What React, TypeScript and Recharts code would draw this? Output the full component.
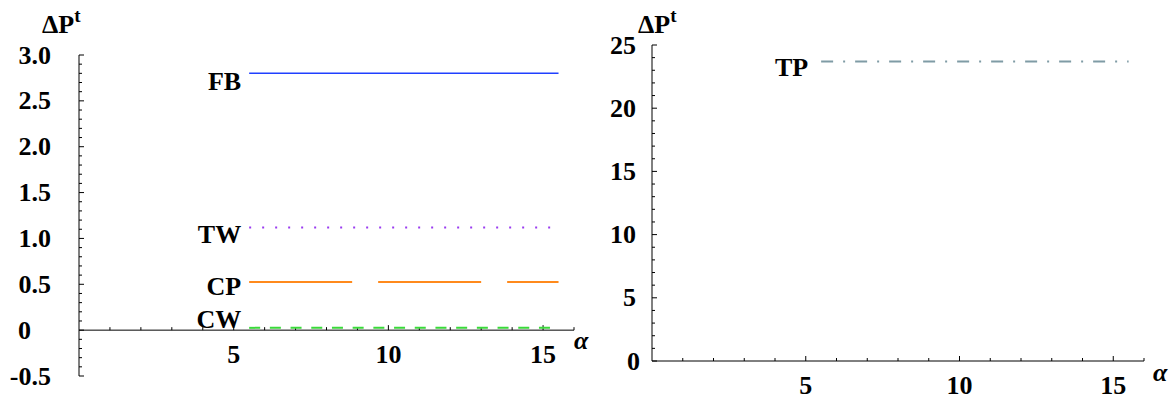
import React from 'react';
import { LineChart, Line, XAxis, YAxis, ReferenceLine } from 'recharts';

const FONT = '"Liberation Serif", "Times New Roman", Times, serif';
const FS = 26;

// ---- data ----
const alphaRange = [5.5, 15.5];
const fbValues = [2.8, 2.8];
const twValues = [1.12, 1.12];
const cpValues = [0.525, 0.525];
const cwValues = [0.025, 0.025];
const tpValues = [23.7, 23.7];

// ---- ticks ----
const xTicks = [1, 2, 3, 4, 5, 6, 7, 8, 9, 10, 11, 12, 13, 14, 15, 16];
const xLabelValues = [5, 10, 15];
const xLabelTexts = ['5', '10', '15'];

const leftYTicks = [
  -0.5, -0.4, -0.3, -0.2, -0.1, 0, 0.1, 0.2, 0.3, 0.4, 0.5, 0.6, 0.7, 0.8, 0.9, 1.0,
  1.1, 1.2, 1.3, 1.4, 1.5, 1.6, 1.7, 1.8, 1.9, 2.0, 2.1, 2.2, 2.3, 2.4, 2.5, 2.6,
  2.7, 2.8, 2.9, 3.0,
];
const leftYLabelValues = [-0.5, 0, 0.5, 1.0, 1.5, 2.0, 2.5, 3.0];
const leftYLabelTexts = ['-0.5', '0', '0.5', '1.0', '1.5', '2.0', '2.5', '3.0'];

const rightYTicks = [
  0, 1, 2, 3, 4, 5, 6, 7, 8, 9, 10, 11, 12, 13, 14, 15, 16, 17, 18, 19, 20, 21, 22, 23, 24, 25,
];
const rightYLabelValues = [0, 5, 10, 15, 20, 25];
const rightYLabelTexts = ['0', '5', '10', '15', '20', '25'];

const leftData = alphaRange.map((a, i) => ({
  alpha: a,
  FB: fbValues[i],
  TW: twValues[i],
  CP: cpValues[i],
  CW: cwValues[i],
}));
const rightData = alphaRange.map((a, i) => ({ alpha: a, TP: tpValues[i] }));

const textStyle = { fontFamily: FONT, fontSize: FS, fill: '#000', fontWeight: 700 as const };

const makeYTick = (vals: number[], texts: string[], gap: number, zeroGap: number) => (props: any) => {
  const { x, y, payload } = props;
  const v = payload.value;
  const idx = vals.findIndex((l) => Math.abs(l - v) < 1e-6);
  const major = idx >= 0;
  const g = texts[idx] === '0' ? zeroGap : gap;
  return (
    <g>
      <line x1={x} x2={x + (major ? 5 : 3)} y1={y} y2={y} stroke="#000" strokeWidth={1} />
      {major && (
        <text x={x - g} y={y} textAnchor="end" dominantBaseline="central" {...textStyle}>
          {texts[idx]}
        </text>
      )}
    </g>
  );
};

const makeXTickShape = (value: number) => (props: any) => {
  const { x1, y1 } = props;
  const idx = xLabelValues.indexOf(value);
  const major = idx >= 0;
  return (
    <g>
      <line x1={x1} x2={x1} y1={y1} y2={y1 - (major ? 5 : 3)} stroke="#000" strokeWidth={1} />
      {major && (
        <text x={x1} y={y1 + 24} textAnchor="middle" dominantBaseline="central" {...textStyle}>
          {xLabelTexts[idx]}
        </text>
      )}
    </g>
  );
};

const alphaShape = (dx: number, dy: number) => (props: any) => {
  const { x1, y1 } = props;
  return (
    <text x={x1 + dx} y={y1 + dy} textAnchor="start" dominantBaseline="central" {...textStyle} fontStyle="italic">
      α
    </text>
  );
};

const deltaShape = (dx: number, dy: number) => (props: any) => {
  const { x1, y1 } = props;
  return (
    <text x={x1 + dx} y={y1 + dy} textAnchor="start" {...textStyle}>
      ΔP
      <tspan fontSize={19} dy={-11}>t</tspan>
    </text>
  );
};

const seriesLabel = (name: string, dy: number, gap: number) => (props: any) => {
  const { x, y, index } = props;
  if (index !== 0) return null;
  return (
    <text x={x - gap} y={y + dy} textAnchor="end" dominantBaseline="central" {...textStyle}>
      {name}
    </text>
  );
};

const xAxisTicks = (yLevel: number) =>
  xTicks.map((t) => (
    <ReferenceLine
      key={'xt' + t}
      segment={[{ x: t, y: yLevel }, { x: t, y: yLevel }]}
      stroke="#000"
      shape={makeXTickShape(t)}
      ifOverflow="visible"
    />
  ));

export default function App() {
  return (
    <div style={{ position: 'absolute', left: 0, top: 0, width: 1175, height: 402, background: '#fff' }}>
      <div style={{ position: 'absolute', left: 0, top: 0 }}>
        <LineChart width={600} height={402} data={leftData} margin={{ top: 55, right: 26, bottom: 26, left: 19 }}>
          <XAxis dataKey="alpha" type="number" domain={[0, 16]} hide />
          <YAxis
            type="number"
            domain={[-0.5, 3]}
            ticks={leftYTicks}
            interval={0}
            width={60}
            tickSize={0}
            tickMargin={0}
            tickLine={false}
            axisLine={{ stroke: '#000', strokeWidth: 1 }}
            tick={makeYTick(leftYLabelValues, leftYLabelTexts, 28, 48)}
          />
          <ReferenceLine y={0} stroke="#000" strokeWidth={1} />
          {xAxisTicks(0)}
          <ReferenceLine segment={[{ x: 16, y: 0 }, { x: 16, y: 0 }]} shape={alphaShape(0, 10)} ifOverflow="visible" />
          <ReferenceLine segment={[{ x: 0, y: 3 }, { x: 0, y: 3 }]} shape={deltaShape(-37, -22)} ifOverflow="visible" />
          <Line dataKey="FB" stroke="#2040ff" strokeWidth={1.5} dot={false} isAnimationActive={false}
            label={seriesLabel('FB', 8, 8)} />
          <Line dataKey="TW" stroke="#9a3cf0" strokeWidth={2} strokeDasharray="2 11" dot={false} isAnimationActive={false}
            label={seriesLabel('TW', 7, 8)} />
          <Line dataKey="CP" stroke="#ff8a1c" strokeWidth={2} strokeDasharray="103 26" dot={false} isAnimationActive={false}
            label={seriesLabel('CP', 5, 8)} />
          <Line dataKey="CW" stroke="#3ad93a" strokeWidth={2} strokeDasharray="11 9.7" dot={false} isAnimationActive={false}
            label={seriesLabel('CW', -8, 8)} />
        </LineChart>
      </div>
      <div style={{ position: 'absolute', left: 600, top: 0 }}>
        <LineChart width={575} height={402} data={rightData} margin={{ top: 45, right: 31, bottom: 41, left: 12 }}>
          <XAxis dataKey="alpha" type="number" domain={[0, 16]} hide />
          <YAxis
            type="number"
            domain={[0, 25]}
            ticks={rightYTicks}
            interval={0}
            width={40}
            tickSize={0}
            tickMargin={0}
            tickLine={false}
            axisLine={{ stroke: '#000', strokeWidth: 1 }}
            tick={makeYTick(rightYLabelValues, rightYLabelTexts, 16, 12)}
          />
          <ReferenceLine y={0} stroke="#000" strokeWidth={1} />
          {xAxisTicks(0)}
          <ReferenceLine segment={[{ x: 16, y: 0 }, { x: 16, y: 0 }]} shape={alphaShape(9, 11)} ifOverflow="visible" />
          <ReferenceLine segment={[{ x: 0, y: 25 }, { x: 0, y: 25 }]} shape={deltaShape(-14, -12)} ifOverflow="visible" />
          <Line dataKey="TP" stroke="#7f9ba5" strokeWidth={2} strokeDasharray="12 10 2 10" dot={false} isAnimationActive={false}
            label={seriesLabel('TP', 6, 13)} />
        </LineChart>
      </div>
    </div>
  );
}
